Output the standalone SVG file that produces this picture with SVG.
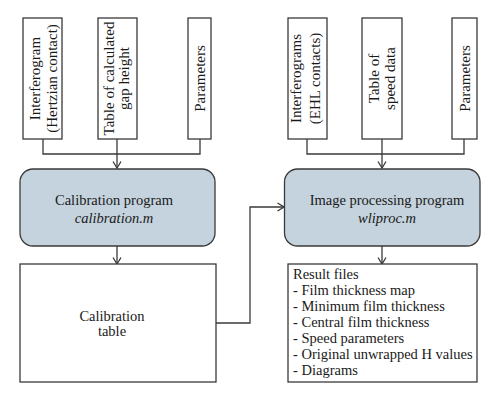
<svg xmlns="http://www.w3.org/2000/svg" width="500" height="401" viewBox="0 0 500 401">
<defs>
<style>
.box{fill:#fff;stroke:#3a3a3a;stroke-width:1.3}
.prog{fill:#c4d3dd;stroke:#3a3a3a;stroke-width:1.3}
.t{font-family:"Liberation Serif","DejaVu Serif",serif;font-size:14.5px;fill:#1a1a1a}
.r{font-size:15px}
.c{text-anchor:middle}
.i{font-style:italic}
.ln{fill:none;stroke:#3a3a3a;stroke-width:1.3}
</style>
<marker id="ah" viewBox="0 0 10 10" refX="9.5" refY="5" markerWidth="10" markerHeight="10" markerUnits="userSpaceOnUse" orient="auto">
<path d="M3,1 L9.5,5 L3,9" fill="none" stroke="#3a3a3a" stroke-width="1.3"/>
</marker>
</defs>
<rect width="500" height="401" fill="#fff"/>
<g id="connectors">
<path class="ln" d="M43,139 V154 H200 V139"/>
<path class="ln" d="M117,139 V168" marker-end="url(#ah)"/>
<path class="ln" d="M307,139 V154 H464 V139"/>
<path class="ln" d="M382,139 V168" marker-end="url(#ah)"/>
<path class="ln" d="M117,246 V264" marker-end="url(#ah)"/>
<path class="ln" d="M382,246 V264" marker-end="url(#ah)"/>
<path class="ln" d="M216,323 H250 V207 H284" marker-end="url(#ah)"/>
</g>
<g id="interferogram-hertzian">
<rect class="box" x="23" y="18" width="39" height="121"/>
<text class="t r c" transform="translate(40,78.5) rotate(-90)">Interferogram</text>
<text class="t r c" transform="translate(57,78.5) rotate(-90)">(Hertzian contact)</text>
</g>
<g id="table-gap-height">
<rect class="box" x="98" y="18" width="39" height="121"/>
<text class="t r c" transform="translate(114,78.5) rotate(-90)">Table of calculated</text>
<text class="t r c" transform="translate(129,78.5) rotate(-90)">gap height</text>
</g>
<g id="parameters-left">
<rect class="box" x="188" y="18" width="23" height="121"/>
<text class="t r c" transform="translate(204.5,78.5) rotate(-90)">Parameters</text>
</g>
<g id="interferograms-ehl">
<rect class="box" x="288" y="18" width="39" height="121"/>
<text class="t r c" transform="translate(301,78.5) rotate(-90)">Interferograms</text>
<text class="t r c" transform="translate(320,78.5) rotate(-90)">(EHL contacts)</text>
</g>
<g id="table-speed-data">
<rect class="box" x="362" y="18" width="40" height="121"/>
<text class="t r c" transform="translate(379,78.5) rotate(-90)">Table of</text>
<text class="t r c" transform="translate(395,78.5) rotate(-90)">speed data</text>
</g>
<g id="parameters-right">
<rect class="box" x="452" y="18" width="25" height="121"/>
<text class="t r c" transform="translate(469.5,78.5) rotate(-90)">Parameters</text>
</g>
<g id="calibration-program">
<rect class="prog" x="20" y="169" width="195" height="77" rx="13"/>
<text class="t c" x="114" y="205">Calibration program</text>
<text class="t c i" x="114" y="223">calibration.m</text>
</g>
<g id="image-processing-program">
<rect class="prog" x="284.5" y="169" width="195.5" height="77" rx="13"/>
<text class="t c" x="387" y="205">Image processing program</text>
<text class="t c i" x="387" y="223">wliproc.m</text>
</g>
<g id="calibration-table">
<rect class="box" x="20" y="264" width="196" height="118"/>
<text class="t c" x="112" y="321">Calibration</text>
<text class="t c" x="112" y="336">table</text>
</g>
<g id="result-files">
<rect class="box" x="288" y="264" width="189" height="118"/>
<text class="t" x="293" y="279">Result files</text>
<text class="t" x="293" y="295">- Film thickness map</text>
<text class="t" x="293" y="311">- Minimum film thickness</text>
<text class="t" x="293" y="327">- Central film thickness</text>
<text class="t" x="293" y="343">- Speed parameters</text>
<text class="t" x="293" y="359">- Original unwrapped H values</text>
<text class="t" x="293" y="375">- Diagrams</text>
</g>
</svg>
